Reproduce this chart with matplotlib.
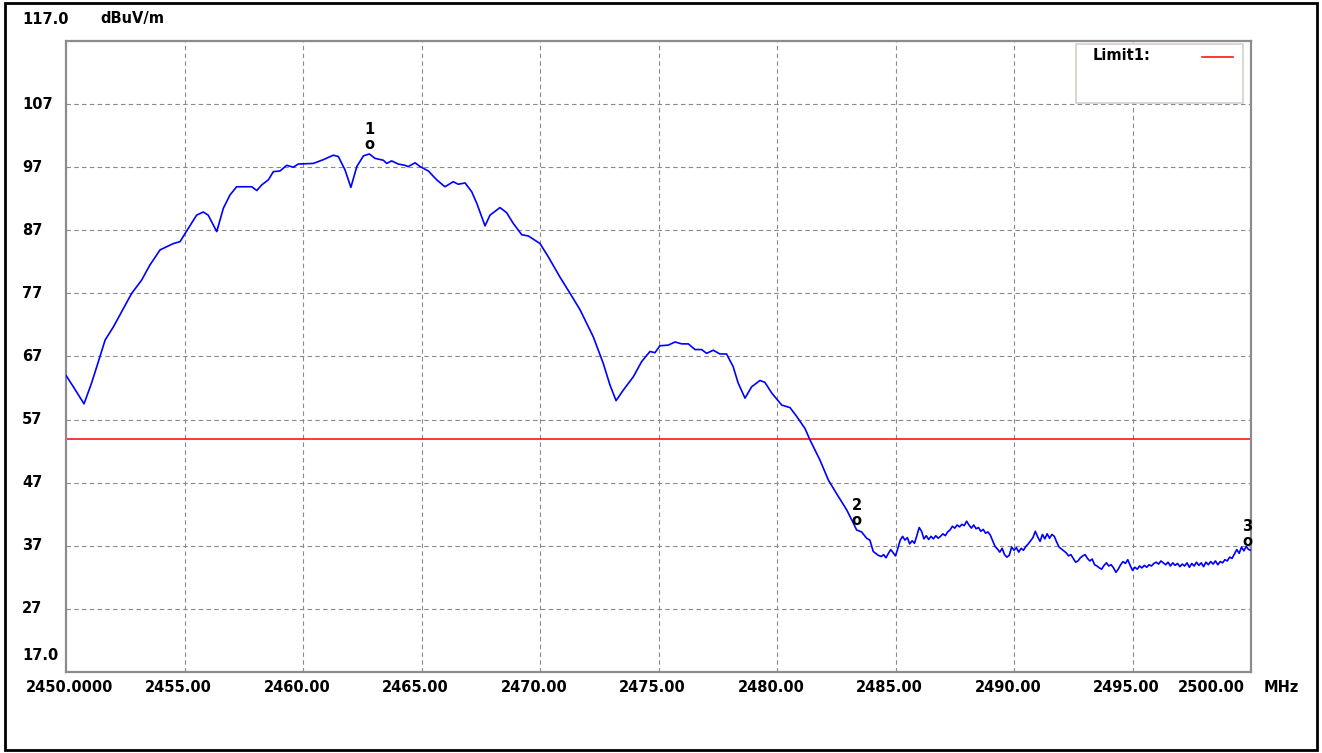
import matplotlib
matplotlib.use("Agg")
import matplotlib.pyplot as plt
from matplotlib.patches import Rectangle
from matplotlib.lines import Line2D
import matplotlib.transforms as mtrans

# ---------------- data ----------------
freq_main = [2450.0, 2450.31, 2450.76, 2451.08, 2451.3, 2451.65, 2452.0, 2452.35, 2452.77,
             2453.19, 2453.54, 2453.97, 2454.53, 2454.81, 2455.16, 2455.51, 2455.79, 2456.0,
             2456.36, 2456.64, 2456.92, 2457.2, 2457.84, 2458.05, 2458.26, 2458.54, 2458.75,
             2459.03, 2459.31, 2459.59, 2459.8, 2460.44, 2460.86, 2461.28, 2461.49, 2461.77,
             2462.02, 2462.27, 2462.55, 2462.8, 2463.04, 2463.39, 2463.53, 2463.74, 2464.02,
             2464.3, 2464.44, 2464.73, 2464.94, 2465.29, 2465.64, 2465.99, 2466.34, 2466.55,
             2466.84, 2467.12, 2467.33, 2467.68, 2467.89, 2468.31, 2468.59, 2468.87, 2469.23,
             2469.51, 2470.0, 2470.35, 2470.84, 2471.27, 2471.69, 2472.25, 2472.67, 2472.95,
             2473.21, 2473.5, 2473.94, 2474.29, 2474.64, 2474.85, 2475.06, 2475.41, 2475.7,
             2475.98, 2476.26, 2476.54, 2476.82, 2477.03, 2477.31, 2477.59, 2477.87, 2478.15,
             2478.36, 2478.65, 2478.93, 2479.28, 2479.49, 2479.78, 2480.2, 2480.55, 2480.83,
             2481.18, 2481.39, 2481.81, 2482.17, 2482.59, 2482.94, 2483.22, 2483.36, 2483.57,
             2483.78, 2483.92, 2484.06, 2484.27]
level_main = [64.0, 62.2, 59.5, 62.8, 65.4, 69.6, 71.7, 74.1, 77.0,
              79.1, 81.5, 83.9, 84.9, 85.2, 87.3, 89.4, 89.9, 89.4,
              86.8, 90.5, 92.6, 93.9, 93.9, 93.3, 94.2, 95.0, 96.3,
              96.4, 97.3, 97.0, 97.5, 97.6, 98.2, 98.9, 98.7, 96.6,
              93.8, 97.1, 98.8, 99.1, 98.4, 98.1, 97.6, 98.0, 97.5,
              97.3, 97.1, 97.7, 97.1, 96.4, 95.0, 93.9, 94.7, 94.3,
              94.5, 93.1, 91.3, 87.7, 89.4, 90.6, 89.8, 88.1, 86.3,
              86.1, 84.9, 82.8, 79.6, 77.0, 74.4, 70.1, 65.9, 62.5,
              60.0, 61.6, 63.8, 66.2, 67.8, 67.6, 68.7, 68.8, 69.3,
              69.0, 69.0, 68.1, 68.1, 67.5, 68.0, 67.4, 67.4, 65.4,
              62.8, 60.4, 62.2, 63.2, 62.9, 61.2, 59.3, 58.9, 57.5,
              55.6, 53.8, 50.6, 47.4, 44.8, 42.7, 40.6, 39.5, 39.2,
              38.2, 37.9, 36.1, 35.5]

freq_tail = [2484.4, 2484.5, 2484.6, 2484.7, 2484.8, 2484.9, 2485.0, 2485.1, 2485.2, 2485.3,
             2485.4, 2485.5, 2485.6, 2485.7, 2485.8, 2485.9, 2486.0, 2486.1, 2486.2, 2486.3,
             2486.4, 2486.5, 2486.6, 2486.7, 2486.8, 2486.9, 2487.0, 2487.1, 2487.2, 2487.3,
             2487.4, 2487.5, 2487.6, 2487.7, 2487.8, 2487.9, 2488.0, 2488.1, 2488.2, 2488.3,
             2488.4, 2488.5, 2488.6, 2488.7, 2488.8, 2488.9, 2489.0, 2489.1, 2489.2, 2489.3,
             2489.4, 2489.5, 2489.6, 2489.7, 2489.8, 2489.9, 2490.0, 2490.1, 2490.2, 2490.3,
             2490.4, 2490.5, 2490.6, 2490.7, 2490.8, 2490.9, 2491.0, 2491.1, 2491.2, 2491.3,
             2491.4, 2491.5, 2491.6, 2491.7, 2491.8, 2491.9, 2492.0, 2492.1, 2492.2, 2492.3,
             2492.4, 2492.5, 2492.6, 2492.7, 2492.8, 2492.9, 2493.0, 2493.1, 2493.2, 2493.3,
             2493.4, 2493.5, 2493.6, 2493.7, 2493.8, 2493.9, 2494.0, 2494.1, 2494.2, 2494.3,
             2494.4, 2494.5, 2494.6, 2494.7, 2494.8, 2494.9, 2495.0, 2495.1, 2495.2, 2495.3,
             2495.4, 2495.5, 2495.6, 2495.7, 2495.8, 2495.9, 2496.0, 2496.1, 2496.2, 2496.3,
             2496.4, 2496.5, 2496.6, 2496.7, 2496.8, 2496.9, 2497.0, 2497.1, 2497.2, 2497.3,
             2497.4, 2497.5, 2497.6, 2497.7, 2497.8, 2497.9, 2498.0, 2498.1, 2498.2, 2498.3,
             2498.4, 2498.5, 2498.6, 2498.7, 2498.8, 2498.9, 2499.0, 2499.1, 2499.2, 2499.3,
             2499.4, 2499.5, 2499.6, 2499.7, 2499.8, 2499.9, 2500.0]
level_tail = [35.3, 35.6, 35.1, 35.8, 36.4, 35.9, 35.4, 36.6, 37.9, 38.5,
              37.9, 38.3, 37.3, 37.8, 37.4, 38.6, 39.9, 39.3, 38.1, 38.6,
              38.0, 38.5, 38.1, 38.6, 38.2, 38.5, 38.9, 38.6, 39.2, 39.5,
              40.1, 39.8, 40.3, 40.0, 40.4, 40.2, 40.9, 40.3, 39.8, 40.3,
              39.7, 39.9, 39.3, 39.6, 39.0, 39.2, 38.7, 37.8, 36.9, 36.5,
              36.0, 36.6, 35.6, 35.2, 35.5, 36.8, 36.3, 36.7, 36.0, 36.6,
              36.3, 36.9, 37.3, 37.8, 38.3, 39.3, 38.4, 37.7, 38.8, 38.1,
              38.9, 38.2, 38.8, 38.5, 37.6, 36.8, 36.5, 36.2, 35.9, 35.4,
              35.6, 35.0, 34.4, 34.6, 35.1, 35.4, 35.6, 35.0, 34.6, 34.9,
              34.0, 33.8, 33.5, 33.3, 33.9, 34.3, 33.8, 34.0, 33.5, 32.8,
              33.3, 34.0, 34.5, 34.2, 34.8, 33.9, 33.1, 33.6, 33.3, 33.8,
              33.5, 33.9, 33.6, 34.0, 33.8, 34.2, 34.4, 34.1, 34.6, 34.3,
              34.0, 34.4, 33.8, 34.3, 33.9, 34.2, 33.7, 34.1, 33.8, 34.3,
              33.6, 34.2, 33.8, 34.4, 33.9, 34.3, 33.7, 34.4, 34.0, 34.5,
              34.1, 34.6, 34.0, 34.5, 34.3, 34.8, 34.6, 35.2, 35.0, 35.7,
              36.4, 35.8, 36.8, 36.2, 36.9, 36.4, 36.3]

limit_level = 54.0
marker_ids = ["1", "2", "3"]
marker_freq = [2462.8, 2483.36, 2499.85]
marker_level = [99.1, 39.5, 36.2]

x_ticks = [2450, 2455, 2460, 2465, 2470, 2475, 2480, 2485, 2490, 2495, 2500]
x_labels = ["2450.0000", "2455.00", "2460.00", "2465.00", "2470.00", "2475.00",
            "2480.00", "2485.00", "2490.00", "2495.00", "2500.00"]
y_ticks = [27, 37, 47, 57, 67, 77, 87, 97, 107]
y_labels = ["27", "37", "47", "57", "67", "77", "87", "97", "107"]
y_min, y_max = 17.0, 117.0
y_unit = "dBuV/m"
x_unit = "MHz"
legend_label = "Limit1:"

# ---------------- figure ----------------
W, H = 1322, 753
fig = plt.figure(figsize=(W / 100, H / 100), dpi=100)
fig.patch.set_facecolor("white")
FONT = dict(family="DejaVu Sans", weight="bold", size=10.5, color="black")

L, R, T, B = 66, 1251, 41, 672
ax = fig.add_axes([L / W, 1 - B / H, (R - L) / W, (B - T) / H])
ax.set_xlim(2450, 2500)
ax.set_ylim(y_min, y_max)

for s in ax.spines.values():
    s.set_color("#8c8c8c")
    s.set_linewidth(1.6)

ax.set_xticks(x_ticks[1:-1])
ax.set_yticks(y_ticks)
ax.tick_params(length=0, labelbottom=False, labelleft=False)
ax.grid(True, color="#8a8a8a", linestyle=(0, (4, 3)), linewidth=0.8)

freq = freq_main + freq_tail
level = level_main + level_tail
ax.plot(freq, level, color="#0000ff", linewidth=1.2, zorder=3)
ax.axhline(limit_level, color="#ff0000", linewidth=1.1, zorder=2)

for mid, mf, ml in zip(marker_ids, marker_freq, marker_level):
    ax.annotate("o", (mf, ml), xytext=(0, 1.5), textcoords="offset points",
                ha="center", va="bottom", zorder=4, annotation_clip=False, **FONT)
    ax.annotate(mid, (mf, ml), xytext=(0, 12), textcoords="offset points",
                ha="center", va="bottom", zorder=4, annotation_clip=False, **FONT)

# y tick labels (left aligned near figure edge)
ytr = mtrans.blended_transform_factory(fig.transFigure, ax.transData)
for yv, lab in zip(y_ticks, y_labels):
    fig.text(22 / W, yv, lab, transform=ytr, ha="left", va="center", **FONT)
fig.text(22 / W, 1 - 655 / H, f"{y_min:.1f}", ha="left", va="center", **FONT)
fig.text(22 / W, 1 - 19 / H, f"{y_max:.1f}", ha="left", va="center", **FONT)
fig.text(100 / W, 1 - 19 / H, y_unit, ha="left", va="center", **FONT)

# x tick labels
xtr = mtrans.blended_transform_factory(ax.transData, fig.transFigure)
offs = mtrans.ScaledTranslation(-6 / 100, 0, fig.dpi_scale_trans)
for i, (xv, lab) in enumerate(zip(x_ticks, x_labels)):
    if i == 0:
        tr = xtr + mtrans.ScaledTranslation(4 / 100, 0, fig.dpi_scale_trans)
    elif i == len(x_ticks) - 1:
        tr = xtr + mtrans.ScaledTranslation(-40 / 100, 0, fig.dpi_scale_trans)
    else:
        tr = xtr + offs
    fig.text(xv, 1 - 688 / H, lab, transform=tr, ha="center", va="center", **FONT)
fig.text(1264 / W, 1 - 688 / H, x_unit, ha="left", va="center", **FONT)

# legend box
leg = Rectangle((1076 / W, 1 - 103 / H), (1243 - 1076) / W, (103 - 44) / H,
                transform=fig.transFigure, facecolor="white", edgecolor="#d4d0c8",
                linewidth=1.2, zorder=5)
fig.patches.append(leg)
fig.text(1093 / W, 1 - 55 / H, legend_label, ha="left", va="center", zorder=6, **FONT)
fig.lines.append(Line2D([1202 / W, 1233 / W], [1 - 57 / H, 1 - 57 / H],
                        transform=fig.transFigure, color="#ff0000", linewidth=1.1, zorder=6))

# outer border
border = Rectangle((5 / W, 1 - 750 / H), (1317 - 5) / W, (750 - 3) / H,
                   transform=fig.transFigure, fill=False, edgecolor="black",
                   linewidth=2.0, zorder=6)
fig.patches.append(border)

fig.savefig("out.png", dpi=100)
